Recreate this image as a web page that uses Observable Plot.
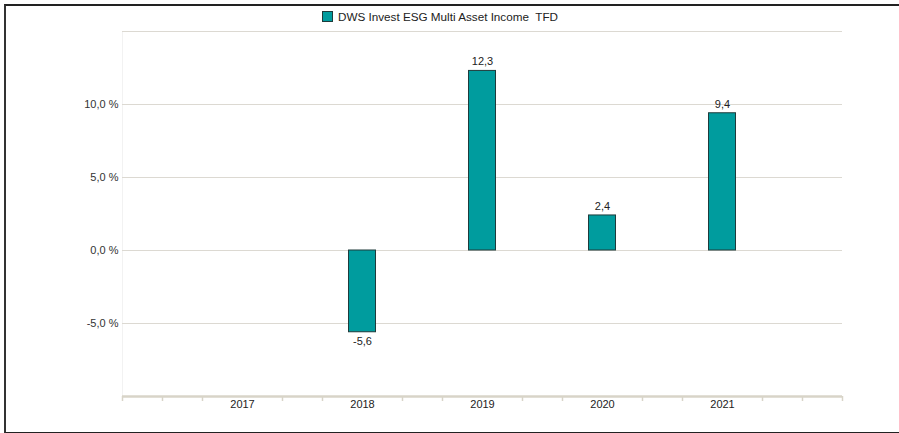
<!DOCTYPE html>
<html>
<head>
<meta charset="utf-8">
<script src="https://cdn.jsdelivr.net/npm/d3@7"></script>
<script src="https://cdn.jsdelivr.net/npm/@observablehq/plot@0.6"></script>
<style>
  html, body { margin: 0; padding: 0; background: #fff; }
  #wrap { position: relative; width: 899px; height: 433px; overflow: hidden; font-family: "Liberation Sans", Arial, sans-serif; }
  #frame { position: absolute; left: 4px; top: 4px; width: 1000px; height: 426px; border-left: 2px solid #333; border-top: 2px solid #222; border-bottom: 2px solid #222; box-sizing: content-box; }
  #legend { position: absolute; left: 322px; top: 10px; display: flex; align-items: center; font-size: 11.7px; color: #222; white-space: pre; }
  #legend .sw { width: 9px; height: 9px; background: #009c9e; border: 1px solid #1e3b3b; margin-right: 5px; }
  #chart { position: absolute; left: 0; top: 0; }
</style>
</head>
<body>
<div id="wrap">
  <div id="frame"></div>
  <div id="chart"></div>
  <div id="legend"><div class="sw"></div><span id="legtext"></span></div>
</div>
<script>
const seriesName = "DWS Invest ESG Multi Asset Income  TFD";
const years = [2017, 2018, 2019, 2020, 2021];
const values = [null, -5.6, 12.3, 2.4, 9.4];
const yTicks = [-5, 0, 5, 10];
const gridLines = [-5, 0, 5, 10, 15];

document.getElementById("legtext").textContent = seriesName;

const data = years.map((y, i) => ({year: y, value: values[i]})).filter(d => d.value != null);
const pos = data.filter(d => d.value >= 0);
const neg = data.filter(d => d.value < 0);
const minorTicks = d3.range(0, 19).filter(i => i % 3 !== 0 || i === 0 || i === 18).map(i => 2016 + i / 3);
const fmt = v => v.toFixed(1).replace(".", ",");

const chart = Plot.plot({
  width: 899,
  height: 433,
  marginTop: 31,
  marginBottom: 37,
  marginLeft: 122,
  marginRight: 57,
  style: {fontFamily: "Liberation Sans, Arial, sans-serif", fontSize: "11px", color: "#333", background: "transparent"},
  x: {type: "linear", domain: [2016, 2022], axis: null},
  y: {type: "linear", domain: [-10, 15], axis: null},
  marks: [
    Plot.ruleX([2016], {y1: -10, y2: 15, stroke: "#f2f2f2"}),
    Plot.ruleY(gridLines, {stroke: "#dcd9d2", strokeWidth: 1}),
    Plot.text(yTicks, {x: 2016, y: d => d, text: d => fmt(d) + " %", textAnchor: "end", dx: -4, fill: "#333", fontSize: 11}),
    Plot.rectY(data, {x1: d => d.year - 0.5, x2: d => d.year + 0.5, y1: 0, y2: "value", insetLeft: 46.5, insetRight: 46.5, fill: "#009c9e", stroke: "#1e3b3b", strokeWidth: 1}),
    Plot.text(pos, {x: "year", y: "value", text: d => fmt(d.value), dy: -9, fill: "#222", fontSize: 11}),
    Plot.text(neg, {x: "year", y: "value", text: d => fmt(d.value), dy: 9, fill: "#222", fontSize: 11}),
    Plot.ruleY([-10], {stroke: "#d8d4c8", strokeWidth: 2.5}),
    Plot.ruleX(minorTicks, {x: d => d, y1: -10, y2: -10, insetTop: 0, insetBottom: -5, stroke: "#d8d4c8", strokeWidth: 1.5}),
    Plot.text(years, {x: d => d, y: -10, text: d => String(d), dy: 8, fill: "#222", fontSize: 11})
  ]
});
document.getElementById("chart").appendChild(chart);
</script>
</body>
</html>
